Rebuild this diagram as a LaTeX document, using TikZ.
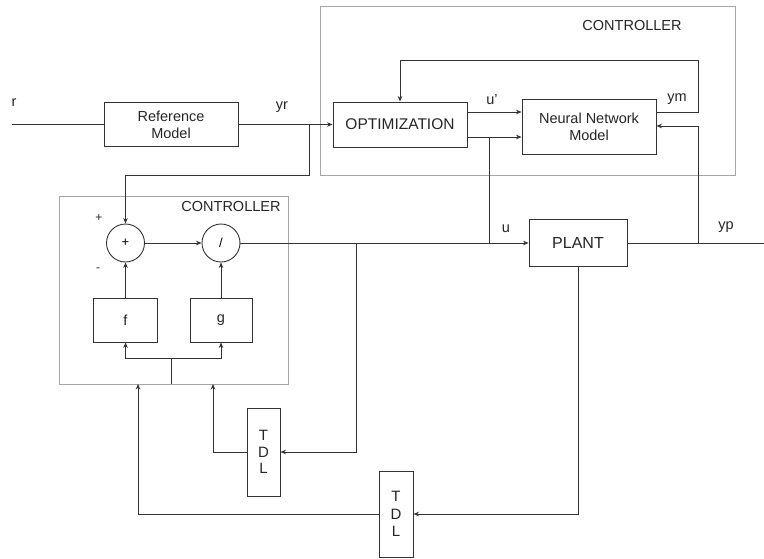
\documentclass[tikz,border=0pt]{standalone}
\usepackage{fontspec}
\setmainfont{Liberation Sans}
\usetikzlibrary{arrows.meta}
\begin{document}
\begin{tikzpicture}[x=1pt,y=-1pt,
  txt/.style={font=\fontsize{14.5}{16}\selectfont, text=black!85, inner sep=0pt},
  blk/.style={draw=black!80, line width=0.9pt, align=center, font=\fontsize{14.5}{17}\selectfont, text=black!85, inner sep=0pt},
  frame/.style={draw=black!35, line width=0.8pt, inner sep=0pt},
  sumc/.style={draw=black!80, line width=0.9pt, circle, minimum size=38pt, inner sep=0pt, font=\fontsize{13}{13}\selectfont},
  wire/.style={draw=black!80, line width=0.9pt},
  arr/.style={wire, -{Stealth[length=5.5pt,width=4.5pt]}},
  sml/.style={font=\fontsize{12}{12}\selectfont, text=black!85, inner sep=0pt}
]
\useasboundingbox (0,0) rectangle (764,558);
\fill[white] (0,0) rectangle (764,558);
% frames
\node[frame, minimum width=414.5pt, minimum height=169pt] (ctlA) at (527.75,90.5) {};
\node[frame, minimum width=229pt, minimum height=188pt] (ctlB) at (173.5,290) {};
\node[txt] (ctlAl) at (632,26) {CONTROLLER};
\node[txt] (ctlBl) at (231,207) {CONTROLLER};
% blocks
\node[blk, minimum width=134pt, minimum height=44pt] (ref) at (171,124.5) {Reference\\Model};
\node[blk, minimum width=134pt, minimum height=45pt, font=\fontsize{15.5}{17}\selectfont] (opt) at (400,124.5) {OPTIMIZATION};
\node[blk, minimum width=134pt, minimum height=55pt] (nn) at (589,126.5) {Neural Network\\Model};
\node[blk, minimum width=98pt, minimum height=47pt, font=\fontsize{16}{17}\selectfont] (plant) at (578,243) {PLANT};
\node[sumc] (sum) at (125.5,243) {+};
\node[sumc] (div) at (221,243) {/};
\node[blk, minimum width=64pt, minimum height=44pt] (f) at (125.5,320) {f};
\node[blk, minimum width=62pt, minimum height=44pt] (g) at (221,320) {g};
\node[blk, minimum width=33pt, minimum height=88pt, font=\fontsize{15}{16.5}\selectfont] (tdlA) at (263.5,452) {T\\D\\L};
\node[blk, minimum width=34pt, minimum height=86pt, font=\fontsize{15}{17.5}\selectfont] (tdlB) at (396,514) {T\\D\\L};
% labels
\node[txt] (lr) at (14,103) {r};
\node[txt] (lyr) at (282,107) {yr};
\node[txt] (lus) at (492,100) {u'};
\node[txt] (lym) at (677,99) {ym};
\node[txt] (lu) at (506,229) {u};
\node[txt] (lyp) at (726,227) {yp};
\node[sml] (lplus) at (99,218) {+};
\node[sml] (lminus) at (98,270) {-};
% coordinates
\coordinate (rin) at (12,124.5);
\coordinate (jyr) at (309,124.5);
\coordinate (yout) at (764,243);
\coordinate (ju) at (489,243);
\coordinate (jyp) at (698,243);
\coordinate (jdiv) at (356,243);
\coordinate (jfg) at (171,358);
% wires
\draw[wire] (rin) -- (ref.west);
\draw[arr] (ref.east) -- (opt.west);
\draw[arr] (jyr) -- (309,175) -- (125.5,175) -- (sum.north);
\draw[arr] (opt.east |- 0,112) -- (nn.west |- 0,112);
\draw[arr] (opt.east |- 0,137) -- (nn.west |- 0,137);
\draw[wire] (489,137) -- (ju);
\draw[arr] (nn.east |- 0,112) -- (698,112) -- (698,60) -- (opt.north |- 0,60) -- (opt.north);
\draw[arr] (jyp) -- (698,126) -- (nn.east |- 0,126);
\draw[arr] (sum.east) -- (div.west);
\draw[arr] (div.east) -- (plant.west);
\draw[wire] (plant.east) -- (yout);
\draw[arr] (f.north) -- (sum.south);
\draw[arr] (g.north) -- (div.south);
\draw[arr] (jdiv) -- (356,452) -- (tdlA.east);
\draw[arr] (tdlA.west) -- (213,452) -- (213,384);
\draw[arr] (plant.south) -- (578,514) -- (tdlB.east);
\draw[arr] (tdlB.west) -- (138,514) -- (138,384);
\draw[arr] (jfg) -- (125.5,358) -- (f.south);
\draw[arr] (jfg) -- (221,358) -- (g.south);
\draw[wire] (jfg) -- (171,384);
\end{tikzpicture}
\end{document}
